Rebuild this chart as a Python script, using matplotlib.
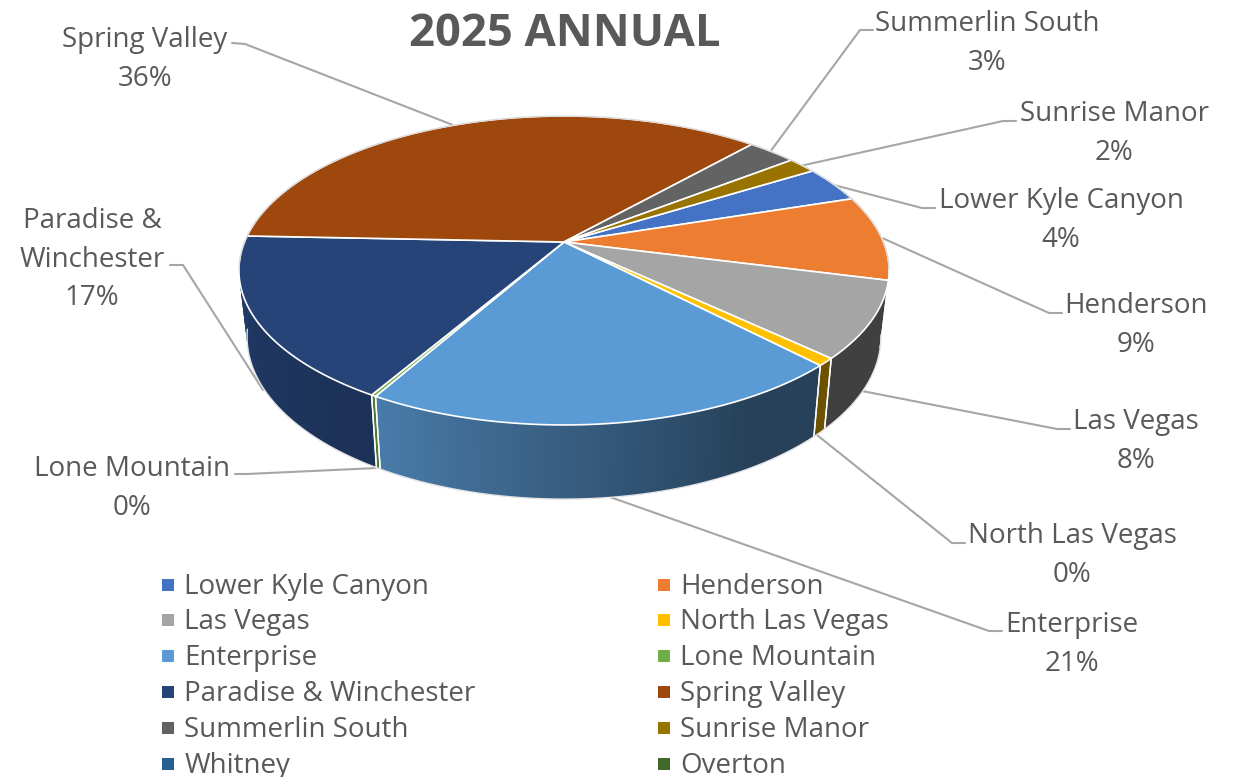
import numpy as np
import matplotlib
matplotlib.use("Agg")
import matplotlib.pyplot as plt
from matplotlib.patches import Polygon, Rectangle

# ---- data ----
categories = ["Lower Kyle Canyon", "Henderson", "Las Vegas", "North Las Vegas", "Enterprise",
              "Lone Mountain", "Paradise & Winchester", "Spring Valley", "Summerlin South",
              "Sunrise Manor", "Whitney", "Overton"]
values = [3.8, 8.9, 8.0, 0.8, 20.5, 0.2, 17.2, 36.0, 2.9, 1.7, 0.0, 0.0]
percent_labels = ["4%", "9%", "8%", "0%", "21%", "0%", "17%", "36%", "3%", "2%", "", ""]
colors = ["#4472C4", "#ED7D31", "#A5A5A5", "#FFC000", "#5B9BD5", "#70AD47",
          "#264478", "#9E480E", "#636363", "#997300", "#255E91", "#43682B"]
title = "2025 ANNUAL"

# ---- style / layout ----
FONT = "Open Sans"
TXT = "#595959"
FS = 20
START = 58.5           # clockwise from the back of the pie
K, A, S = 0.1845, 149.2, 319.5
CX, CY = 564.0, 242.0
FX, FY, CYB = 0.975, 1.05, 307.0
# wall shading per slice: (dark end, light end)
SHADE = {2: (.39, .39), 3: (.42, .42), 4: (.42, .80), 5: (.7, .7), 6: (.72, .88)}

fig = plt.figure(figsize=(12.35, 7.77), dpi=100)
ax = fig.add_axes([0, 0, 1, 1])
ax.set_xlim(0, 1235)
ax.set_ylim(777, 0)
ax.axis("off")


def proj(deg, bottom=False):
    t = np.radians(np.asarray(deg, dtype=float))
    X, Y = np.sin(t), -np.cos(t)
    w = 1 - K * Y
    px, py = S * X / w, A * Y / w
    if bottom:
        return np.column_stack([CX + FX * px, CYB + FY * py])
    return np.column_stack([CX + px, CY + py])


def shade(hex_color, f):
    r, g, b = matplotlib.colors.to_rgb(hex_color)
    return (r * f, g * f, b * f)


edges = START + np.cumsum([0] + [v * 3.6 for v in values])

# leader lines behind the pie
leaders = [
    [(232, 43), (245, 44), (458, 127)],
    [(873, 30), (860, 30), (770, 152)],
    [(1016, 121), (1003, 121), (800, 166)],
    [(935, 208), (922, 208), (830, 184)],
    [(1062, 313), (1049, 313), (880, 237)],
    [(1070, 429), (1057, 429), (862, 391)],
    [(965, 543), (952, 543), (817, 435)],
    [(1002, 631), (989, 631), (610, 497)],
    [(235, 474), (247, 474), (377, 468)],
    [(170, 265), (183, 265), (263, 390)],
]
for pts in leaders:
    p = np.array(pts)
    ax.plot(p[:, 0], p[:, 1], color="#A6A6A6", lw=1.5, zorder=1, solid_capstyle="round")

# outer wall, in short overlapping strips so that it can carry a gradient
for i, v in enumerate(values):
    if v <= 0:
        continue
    a0, a1 = edges[i], edges[i + 1]
    lo, hi = SHADE.get(i, (.4, .4))
    angs = np.linspace(a0, a1, max(2, int((a1 - a0) / 1.0) + 1))
    for j in range(len(angs) - 1):
        m = (angs[j] + angs[j + 1]) / 2
        t = (m - a0) / (a1 - a0)
        tt = np.clip((t - .2) / .8, 0, 1) if i == 4 else t
        f = lo + (hi - lo) * tt
        end = angs[j + 2] if j + 2 < len(angs) else angs[j + 1]
        seg = np.array([angs[j], end])
        poly = np.vstack([proj(seg), proj(seg[::-1], True)])
        ax.add_patch(Polygon(poly, closed=True, fc=shade(colors[i], f), ec="none", zorder=2))
    for a in (a0, a1):
        if 100 < (a % 360) < 265:
            q = np.vstack([proj([a]), proj([a], True)])
            ax.plot(q[:, 0], q[:, 1], color="white", lw=1.0, zorder=3)

# light rim round the lower edge
rim = proj(np.linspace(100, 262, 200), True)
ax.plot(rim[:, 0], rim[:, 1], color="#E4E4E4", lw=1.0, zorder=3)

# top face
for i, v in enumerate(values):
    if v <= 0:
        continue
    angs = np.linspace(edges[i], edges[i + 1], max(3, int(v * 3.6) + 2))
    poly = np.vstack([[CX, CY], proj(angs)])
    ax.add_patch(Polygon(poly, closed=True, fc=colors[i], ec="white", lw=1.2,
                         joinstyle="round", zorder=4))
back = proj(np.linspace(-100, 100, 200))
ax.plot(back[:, 0], back[:, 1], color="#D9D9D9", lw=.9, zorder=5)

# data labels
label_pos = {
    0: (1061, ["Lower Kyle Canyon"], 198),
    1: (1136, ["Henderson"], 303),
    2: (1136, ["Las Vegas"], 419),
    3: (1072, ["North Las Vegas"], 533),
    4: (1072, ["Enterprise"], 622),
    5: (132, ["Lone Mountain"], 466),
    6: (92, ["Paradise &", "Winchester"], 218),
    7: (145, ["Spring Valley"], 37),
    8: (987, ["Summerlin South"], 21),
    9: (1114, ["Sunrise Manor"], 111),
}
for i, (x, lines, y) in label_pos.items():
    for k, s in enumerate(lines + [percent_labels[i]]):
        ax.text(x, y + k * 38.7 + 3, s, ha="center", va="center", fontsize=FS,
                family=FONT, color=TXT, zorder=6)

ax.text(565, 35, title, ha="center", va="center", fontsize=32.7, fontweight="bold",
        family=FONT, color=TXT, zorder=6)

# legend
rows = [585, 620, 656, 692, 728, 764]
for i, name in enumerate(categories):
    col, row = i % 2, i // 2
    mx = 162 if col == 0 else 658
    y = rows[row]
    ax.add_patch(Rectangle((mx, y - 6), 12, 12, fc=colors[i], ec="none", zorder=6))
    ax.text(mx + 22.5, y + 2, name, ha="left", va="center", fontsize=FS, family=FONT,
            color=TXT, zorder=6)

fig.savefig("out.png", dpi=100, facecolor="white")
